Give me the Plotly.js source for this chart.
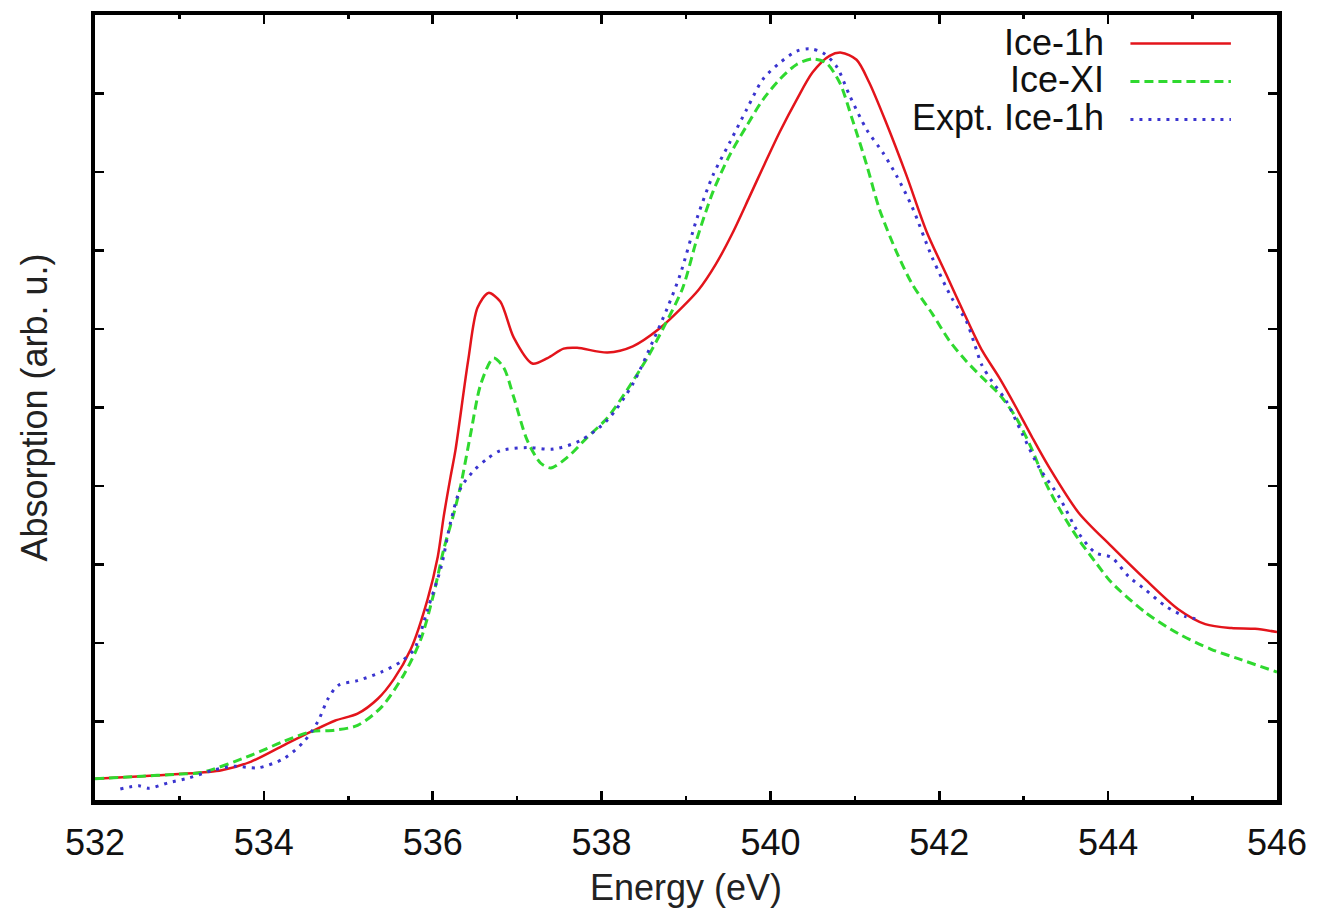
<!DOCTYPE html>
<html>
<head>
<meta charset="utf-8">
<script src="https://cdn.plot.ly/plotly-3.0.1.min.js"></script>
<style>
  html, body { margin: 0; padding: 0; background: #ffffff; }
  #chart { width: 1318px; height: 918px; }
</style>
</head>
<body>
<div id="chart"></div>
<script>
// O K-edge absorption spectra: two calculated ice phases and the measured Ice-1h curve
const seriesNames = ["Ice-1h", "Ice-XI", "Expt. Ice-1h"];

// Ice-1h (calculated)
const ice1hEnergy = [532.0, 532.5, 533.0, 533.5, 533.85, 534.24, 534.56, 534.84, 535.11, 535.35,
  535.54, 535.74, 535.94, 536.06, 536.13, 536.21, 536.27, 536.42, 536.53, 536.66,
  536.80, 536.96, 537.18, 537.36, 537.55, 537.71, 538.07, 538.37, 538.69, 538.93,
  539.15, 539.35, 539.55, 539.75, 539.93, 540.11, 540.31, 540.50, 540.70, 540.84,
  541.02, 541.17, 541.37, 541.61, 541.85, 542.08, 542.32, 542.51, 542.71, 542.91,
  543.10, 543.30, 543.65, 544.04, 544.44, 544.83, 545.15, 545.46, 545.74, 546.0];
const ice1hAbs = [0.27, 0.30, 0.33, 0.38, 0.49, 0.70, 0.87, 1.01, 1.10, 1.29,
  1.54, 1.92, 2.56, 3.10, 3.61, 4.11, 4.46, 5.60, 6.27, 6.46,
  6.35, 5.89, 5.56, 5.63, 5.75, 5.76, 5.70, 5.78, 6.01, 6.25,
  6.50, 6.82, 7.22, 7.68, 8.10, 8.51, 8.92, 9.27, 9.48, 9.52,
  9.43, 9.14, 8.63, 7.96, 7.24, 6.70, 6.14, 5.72, 5.38, 5.00,
  4.62, 4.24, 3.66, 3.23, 2.81, 2.43, 2.24, 2.19, 2.18, 2.14];

// Ice-XI (calculated)
const iceXIEnergy = [532.0, 532.5, 533.0, 533.26, 533.85, 534.24, 534.56, 534.84, 535.11, 535.39,
  535.66, 535.86, 536.01, 536.13, 536.24, 536.33, 536.45, 536.57, 536.72, 536.84,
  536.96, 537.12, 537.28, 537.40, 537.60, 537.83, 538.07, 538.30, 538.54, 538.73,
  538.96, 539.13, 539.32, 539.52, 539.72, 539.91, 540.11, 540.31, 540.50, 540.66,
  540.82, 540.97, 541.14, 541.29, 541.49, 541.68, 541.92, 542.12, 542.32, 542.51,
  542.71, 542.91, 543.10, 543.26, 543.45, 543.65, 543.85, 544.04, 544.44, 544.83,
  545.22, 545.54, 546.0];
const iceXIAbs = [0.27, 0.30, 0.33, 0.35, 0.57, 0.75, 0.87, 0.89, 0.95, 1.18,
  1.60, 2.05, 2.62, 3.19, 3.61, 4.00, 4.67, 5.30, 5.63, 5.51,
  5.13, 4.58, 4.29, 4.23, 4.37, 4.62, 4.87, 5.22, 5.63, 6.01,
  6.52, 7.15, 7.75, 8.22, 8.59, 8.92, 9.18, 9.37, 9.44, 9.39,
  9.14, 8.67, 8.09, 7.53, 6.99, 6.57, 6.19, 5.85, 5.59, 5.38,
  5.17, 4.87, 4.46, 4.04, 3.66, 3.32, 3.03, 2.77, 2.39, 2.12,
  1.92, 1.80, 1.63];

// Ice-1h (experiment)
const exptEnergy = [532.30, 532.52, 532.64, 532.87, 533.11, 533.40, 533.65, 533.93, 534.24, 534.48,
  534.64, 534.76, 534.88, 535.11, 535.39, 535.62, 535.78, 535.94, 536.10, 536.21,
  536.33, 536.49, 536.65, 536.80, 537.12, 537.43, 537.75, 538.07, 538.37, 538.61,
  538.78, 538.93, 539.13, 539.32, 539.52, 539.72, 539.91, 540.11, 540.31, 540.46,
  540.62, 540.78, 540.94, 541.14, 541.33, 541.49, 541.68, 541.92, 542.15, 542.32,
  542.42, 542.50, 542.62, 542.79, 542.98, 543.18, 543.42, 543.65, 543.85, 544.04,
  544.24, 544.44, 544.68, 544.91, 545.10];
const exptAbs = [0.14, 0.18, 0.15, 0.22, 0.28, 0.38, 0.43, 0.41, 0.53, 0.75,
  1.00, 1.29, 1.46, 1.52, 1.63, 1.76, 1.92, 2.43, 2.97, 3.53,
  3.97, 4.20, 4.35, 4.45, 4.49, 4.47, 4.58, 4.84, 5.30, 5.85,
  6.27, 6.69, 7.41, 7.96, 8.38, 8.80, 9.18, 9.39, 9.54, 9.57,
  9.52, 9.35, 8.97, 8.54, 8.25, 7.96, 7.55, 6.90, 6.39, 6.10,
  5.80, 5.55, 5.34, 5.09, 4.67, 4.24, 3.86, 3.40, 3.15, 3.09,
  2.85, 2.68, 2.47, 2.34, 2.30];

const xTickValues = [532, 534, 536, 538, 540, 542, 544, 546];

const FONT = '"Liberation Sans", Arial, Helvetica, sans-serif';
const colors = ['#e3141b', '#2fd92f', '#3a34cf'];
const dashes = ['solid', '9px,5px', '3px,6px'];
const widths = [2.5, 3, 3];

const traces = [
  { x: ice1hEnergy, y: ice1hAbs },
  { x: iceXIEnergy, y: iceXIAbs },
  { x: exptEnergy, y: exptAbs }
].map((d, i) => ({
  x: d.x, y: d.y, name: seriesNames[i], type: 'scatter', mode: 'lines',
  line: { color: colors[i], width: widths[i], dash: dashes[i], shape: 'spline', smoothing: 0.8 },
  showlegend: false, hoverinfo: 'skip'
}));

// key: labels right-aligned, line samples to their right
const keyRows = [0.9656, 0.9172, 0.8688];
const annotations = seriesNames.map((n, i) => ({
  xref: 'paper', yref: 'paper', x: 0.855, y: keyRows[i],
  xanchor: 'right', yanchor: 'middle', showarrow: false, text: n,
  font: { family: FONT, size: 36, color: '#111111' }
}));
const shapes = seriesNames.map((n, i) => ({
  type: 'line', xref: 'paper', yref: 'paper',
  x0: 0.876, x1: 0.961, y0: keyRows[i] - 0.002, y1: keyRows[i] - 0.002,
  line: { color: colors[i], width: widths[i], dash: dashes[i] }
}));

const axisCommon = {
  showline: true, linewidth: 4.5, linecolor: '#000000', mirror: 'ticks',
  ticks: 'inside', ticklen: 9, tickwidth: 2.5, tickcolor: '#000000',
  showgrid: false, zeroline: false, fixedrange: true
};

const layout = {
  width: 1318, height: 918,
  paper_bgcolor: '#ffffff', plot_bgcolor: '#ffffff',
  margin: { l: 95, r: 41, t: 15, b: 118, pad: 0 },
  font: { family: FONT, size: 36, color: '#111111' },
  xaxis: Object.assign({}, axisCommon, {
    range: [532, 546], tickvals: xTickValues, ticktext: xTickValues.map(String),
    minor: { dtick: 1, tick0: 532, ticks: 'inside', ticklen: 4, tickwidth: 2.5, tickcolor: '#000000' },
    tickfont: { family: FONT, size: 36, color: '#111111' },
    ticklabelstandoff: 7,
    title: { text: 'Energy (eV)', font: { family: FONT, size: 36, color: '#222222' }, standoff: 14 }
  }),
  yaxis: Object.assign({}, axisCommon, {
    range: [0, 10], dtick: 1, tick0: 0, showticklabels: false,
    title: { text: 'Absorption (arb. u.)', font: { family: FONT, size: 36, color: '#222222' }, standoff: 33 }
  }),
  annotations: annotations,
  shapes: shapes
};

Plotly.newPlot('chart', traces, layout, { displayModeBar: false, staticPlot: true });
</script>
</body>
</html>
